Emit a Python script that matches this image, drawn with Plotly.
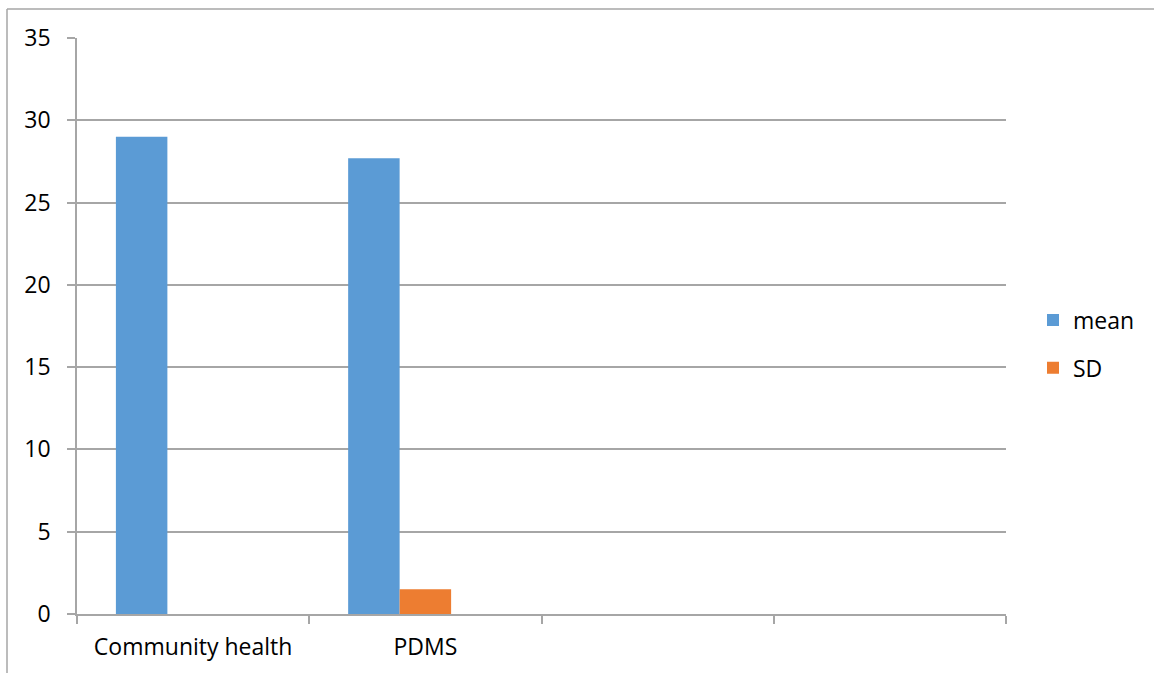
import plotly.graph_objects as go

categories = ["Community health", "PDMS", " ", "  "]
mean_vals = [29, 27.7, None, None]
sd_vals = [None, 1.5, None, None]
extra_vals = [None, None, None, None]
y_ticks = [0, 5, 10, 15, 20, 25, 30, 35]

FONT = "Open Sans"
FS = 23
GRID = "#A6A6A6"

W, H = 1154, 673
L, R, T, B = 77, 1006, 38, 614

fig = go.Figure()
fig.add_trace(go.Bar(name="mean", x=categories, y=mean_vals, marker=dict(color="#5B9BD5", line=dict(width=0)),
                     legendgroup="a"))
fig.add_trace(go.Bar(name="SD", x=categories, y=sd_vals, marker=dict(color="#ED7D31", line=dict(width=0)),
                     legendgroup="b"))
fig.add_trace(go.Bar(name="", x=categories, y=extra_vals, marker=dict(color="#A5A5A5", line=dict(width=0)),
                     showlegend=False, legendgroup="c"))

pw = R - L
ph = B - T
def px(x):
    return (x - L) / pw
def py(y):
    return (B - y) / ph

fig.update_layout(
    width=W, height=H,
    margin=dict(l=L, r=W - R, t=T, b=H - B, pad=0),
    paper_bgcolor="white", plot_bgcolor="white",
    barmode="group", bargap=0.335, bargroupgap=0,
    font=dict(family=FONT, size=FS, color="#000000"),
    xaxis=dict(
        type="category", categoryorder="array", categoryarray=categories,
        showline=True, linecolor=GRID, linewidth=1.5,
        ticks="outside", tickson="boundaries", ticklen=8, tickcolor=GRID, tickwidth=1.5,
        showgrid=False, ticklabelstandoff=12,
        tickfont=dict(family=FONT, size=FS, color="#000000"),
    ),
    yaxis=dict(
        range=[0, 35], tickvals=y_ticks, showline=True, linecolor=GRID, linewidth=1.5,
        ticks="outside", ticklen=8, tickcolor=GRID, tickwidth=1.5,
        showgrid=True, gridcolor=GRID, gridwidth=1.5, zeroline=False,
        ticklabelstandoff=12,
        tickfont=dict(family=FONT, size=FS, color="#000000"),
    ),
    legend=dict(
        x=px(1033), y=py(344), xanchor="left", yanchor="middle",
        traceorder="grouped", tracegroupgap=15,
        font=dict(family=FONT, size=FS, color="#000000"),
        bgcolor="rgba(0,0,0,0)",
    ),
    shapes=[
        dict(type="line", xref="paper", yref="paper", x0=px(7), x1=px(1170), y0=py(9), y1=py(9),
             line=dict(color=GRID, width=1.5)),
        dict(type="line", xref="paper", yref="paper", x0=px(7), x1=px(7), y0=py(9), y1=py(690),
             line=dict(color=GRID, width=1.5)),
    ],
)

fig.write_html("out.html", config={"displayModeBar": False},
               post_script="document.body.style.margin='0px';")
